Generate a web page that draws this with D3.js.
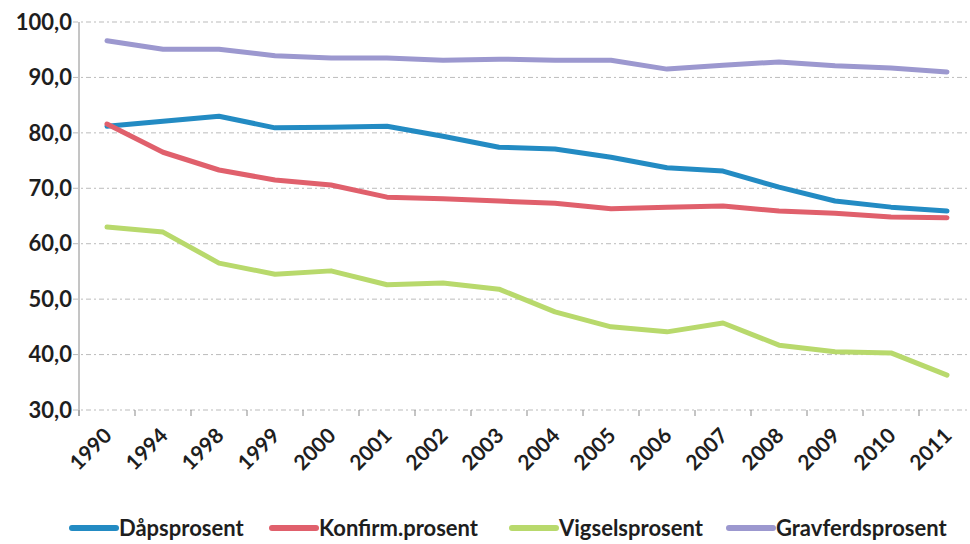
<!DOCTYPE html>
<html>
<head>
<meta charset="utf-8">
<script src="https://cdn.jsdelivr.net/npm/d3@7"></script>
<style>
  body { margin: 0; background: #fff; }
  text { font-family: Lato, "Open Sans", sans-serif; }
</style>
</head>
<body>
<svg id="chart" width="970" height="544"></svg>
<script>
    'use strict';

    var years = ['1990', '1994', '1998', '1999', '2000', '2001', '2002', '2003',
        '2004', '2005', '2006', '2007', '2008', '2009', '2010', '2011'];

    var dapsprosent = [81.2, 82.1, 83.0, 80.9, 81.0, 81.2, 79.4, 77.4,
        77.1, 75.6, 73.7, 73.1, 70.2, 67.7, 66.6, 65.9];
    var konfirmProsent = [81.6, 76.5, 73.3, 71.5, 70.6, 68.4, 68.1, 67.7,
        67.3, 66.3, 66.6, 66.8, 65.9, 65.5, 64.8, 64.7];
    var vigselsprosent = [63.0, 62.1, 56.5, 54.5, 55.1, 52.6, 52.9, 51.8,
        47.7, 45.0, 44.1, 45.7, 41.7, 40.5, 40.3, 36.3];
    var gravferdsprosent = [96.6, 95.1, 95.1, 93.9, 93.5, 93.5, 93.1, 93.3,
        93.1, 93.1, 91.5, 92.2, 92.8, 92.1, 91.7, 91.0];

    var yTicks = [30, 40, 50, 60, 70, 80, 90, 100];

    var seriesNames = ['Dåpsprosent', 'Konfirm.prosent', 'Vigselsprosent', 'Gravferdsprosent'];
    var seriesColors = ['#238bc3', '#e0606c', '#b8d96c', '#9c98cf'];
    var series = [dapsprosent, konfirmProsent, vigselsprosent, gravferdsprosent];

    (function() {
        var svg = d3.select('#chart');
        var plotLeft = 79, plotRight = 975, plotTop = 22, plotBottom = 410;

        var x = d3.scaleBand().domain(years).range([plotLeft, plotRight]);
        var y = d3.scaleLinear().domain([30, 100]).range([plotBottom, plotTop]);
        var fmt = v => d3.format('.1f')(v).replace('.', ',');

        // Gridlines
        svg.append('g')
            .selectAll('line')
            .data(yTicks)
            .join('line')
            .attr('x1', plotLeft - 6)
            .attr('x2', plotRight)
            .attr('y1', d => y(d))
            .attr('y2', d => y(d))
            .attr('stroke', '#a0a0a0')
            .attr('stroke-width', 1)
            .attr('stroke-dasharray', '5,3,2,3')
            .attr('opacity', 0.7);

        // Y axis line
        svg.append('line')
            .attr('x1', plotLeft).attr('x2', plotLeft)
            .attr('y1', plotTop).attr('y2', plotBottom + 6)
            .attr('stroke', '#8a8a8a');

        // Y labels
        svg.append('g')
            .selectAll('text')
            .data(yTicks)
            .join('text')
            .attr('x', plotLeft - 7)
            .attr('y', d => y(d))
            .attr('dy', '0.35em')
            .attr('text-anchor', 'end')
            .attr('font-size', 22)
            .attr('font-weight', 'bold')
            .attr('fill', '#1e1e1e')
            .text(fmt);

        // X ticks at band edges
        svg.append('g')
            .selectAll('line')
            .data(years)
            .join('line')
            .attr('x1', d => x(d))
            .attr('x2', d => x(d))
            .attr('y1', plotBottom)
            .attr('y2', plotBottom + 6)
            .attr('stroke', '#8a8a8a');

        // X labels, rotated
        svg.append('g')
            .selectAll('text')
            .data(years)
            .join('text')
            .attr('transform', d => `translate(${x(d) + x.bandwidth() / 2 + 6}, ${plotBottom + 27}) rotate(-45)`)
            .attr('text-anchor', 'end')
            .attr('font-size', 21)
            .attr('font-weight', 'bold')
            .attr('fill', '#1e1e1e')
            .text(d => d);

        // Lines
        var line = d3.line()
            .x((d, i) => x(years[i]) + x.bandwidth() / 2)
            .y(d => y(d));

        svg.append('g')
            .selectAll('path')
            .data(series)
            .join('path')
            .attr('d', line)
            .attr('fill', 'none')
            .attr('stroke', (d, i) => seriesColors[i])
            .attr('stroke-width', 5)
            .attr('stroke-linejoin', 'round')
            .attr('stroke-linecap', 'round');

        // Legend
        var legendX = [72, 272, 512, 729];
        var legend = svg.append('g')
            .selectAll('g')
            .data(seriesNames)
            .join('g')
            .attr('transform', (d, i) => `translate(${legendX[i]}, 528)`);

        legend.append('line')
            .attr('x1', 0).attr('x2', 44)
            .attr('y1', 0).attr('y2', 0)
            .attr('stroke', (d, i) => seriesColors[i])
            .attr('stroke-width', 6)
            .attr('stroke-linecap', 'round');

        legend.append('text')
            .attr('x', 47)
            .attr('dy', '0.35em')
            .attr('font-size', 22)
            .attr('font-weight', 'bold')
            .attr('fill', '#1e1e1e')
            .text(d => d);
    })();
</script>
</body>
</html>
